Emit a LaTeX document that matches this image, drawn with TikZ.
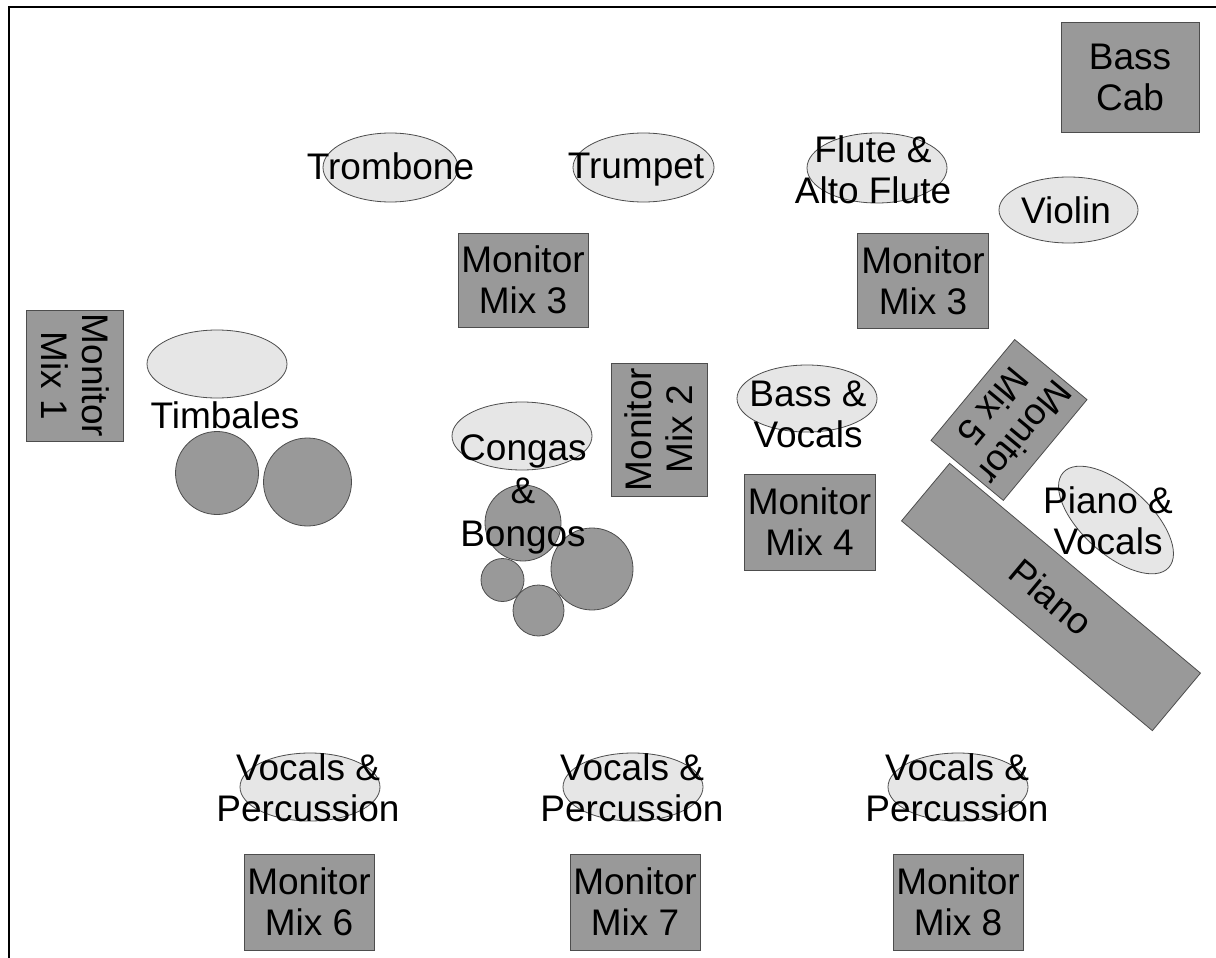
\documentclass[tikz,border=0pt]{standalone}
\usepackage{fontspec}
\setmainfont{Liberation Sans}
\usetikzlibrary{shapes.geometric}
\definecolor{boxgray}{HTML}{999999}
\definecolor{ellgray}{HTML}{E6E6E6}
\definecolor{edgegray}{HTML}{4D4D4D}
\begin{document}
\begin{tikzpicture}[x=1pt,y=-1pt,
  bigtext/.style={font=\fontsize{37}{41}\selectfont, align=center, text=black},
  gearbox/.style={rectangle, draw=edgegray, fill=boxgray, line width=0.8pt, inner sep=0pt, bigtext},
  spot/.style={ellipse, draw=edgegray, fill=ellgray, line width=0.8pt, inner sep=0pt},
  drum/.style={circle, draw=edgegray, fill=boxgray, line width=0.8pt, inner sep=0pt},
  caption/.style={bigtext, inner sep=0pt}]
\useasboundingbox (0,0) rectangle (1216,958);
\draw[line width=1.4pt] (9,958) -- (9,7) -- (1216,7);

% Bass Cab
\node[gearbox, minimum width=138, minimum height=110] (basscab) at (1130,77) {Bass\\Cab};

% Top row
\node[spot, minimum width=135, minimum height=69] (tromboneE) at (390.5,167.5) {};
\node[caption] (tromboneT) at (390.5,166) {Trombone};
\node[spot, minimum width=141, minimum height=69] (trumpetE) at (643.5,167.5) {};
\node[caption] (trumpetT) at (636,170) {Trumpet};
\node[spot, minimum width=140, minimum height=70] (fluteE) at (877,168) {};
\node[caption] (fluteT) at (873,170) {Flute \&\\Alto Flute};
\node[spot, minimum width=139, minimum height=66] (violinE) at (1068.5,210) {};
\node[caption] (violinT) at (1066,210) {Violin};

% Monitor mixes 3
\node[gearbox, minimum width=130, minimum height=94] (mm3a) at (523,280) {Monitor\\Mix 3};
\node[gearbox, minimum width=131, minimum height=95] (mm3b) at (923,280.5) {Monitor\\Mix 3};

% Monitor Mix 1 and timbales
\node[gearbox, minimum width=131, minimum height=97, rotate=-90] (mm1) at (75,375.5) {Monitor\\Mix 1};
\node[spot, minimum width=140, minimum height=68] (timbE) at (217,364) {};
\node[caption] (timbT) at (225,415) {Timbales};
\node[drum, minimum size=83] (timb1) at (217,473) {};
\node[drum, minimum size=88] (timb2) at (307.5,482) {};

% Congas and bongos
\node[spot, minimum width=140, minimum height=68] (congaE) at (522,436) {};
\node[drum, minimum size=76] (conga1) at (523,523) {};
\node[drum, minimum size=82] (conga2) at (592,569) {};
\node[drum, minimum size=43] (bongo1) at (502.5,580) {};
\node[drum, minimum size=51] (bongo2) at (538.5,610.5) {};
\node[caption, font=\fontsize{37}{43}\selectfont] (congaT) at (523,494) {Congas\\\&\\Bongos};

% Monitor Mix 2
\node[gearbox, minimum width=133, minimum height=96, rotate=90] (mm2) at (659,429.5) {Monitor\\Mix 2};

% Bass & vocals, Monitor Mix 4
\node[spot, minimum width=140, minimum height=67] (bassE) at (807,398.5) {};
\node[caption] (bassT) at (808,414) {Bass \&\\Vocals};
\node[gearbox, minimum width=131, minimum height=96] (mm4) at (809.5,522) {Monitor\\Mix 4};

% Monitor Mix 5, piano
\node[gearbox, minimum width=131, minimum height=94, rotate=-129.7] (mm5) at (1009,420) {Monitor\\Mix 5};
\node[gearbox, minimum width=327, minimum height=75, rotate=-39.9] (piano) at (1051,597) {Piano};
\node[spot, minimum width=142, minimum height=68, rotate=-42] (pianoE) at (1116,520) {};
\node[caption] (pianoT) at (1108,521) {Piano \&\\Vocals};

% Front line
\node[spot, minimum width=140, minimum height=68] (vp1E) at (310,787) {};
\node[caption] (vp1T) at (308,788) {Vocals \&\\Percussion};
\node[spot, minimum width=140, minimum height=68] (vp2E) at (633,787) {};
\node[caption] (vp2T) at (632,788) {Vocals \&\\Percussion};
\node[spot, minimum width=140, minimum height=68] (vp3E) at (958,787) {};
\node[caption] (vp3T) at (957,788) {Vocals \&\\Percussion};

\node[gearbox, minimum width=130, minimum height=96] (mm6) at (309,902) {Monitor\\Mix 6};
\node[gearbox, minimum width=130, minimum height=96] (mm7) at (635,902) {Monitor\\Mix 7};
\node[gearbox, minimum width=130, minimum height=96] (mm8) at (958,902) {Monitor\\Mix 8};
\end{tikzpicture}
\end{document}
